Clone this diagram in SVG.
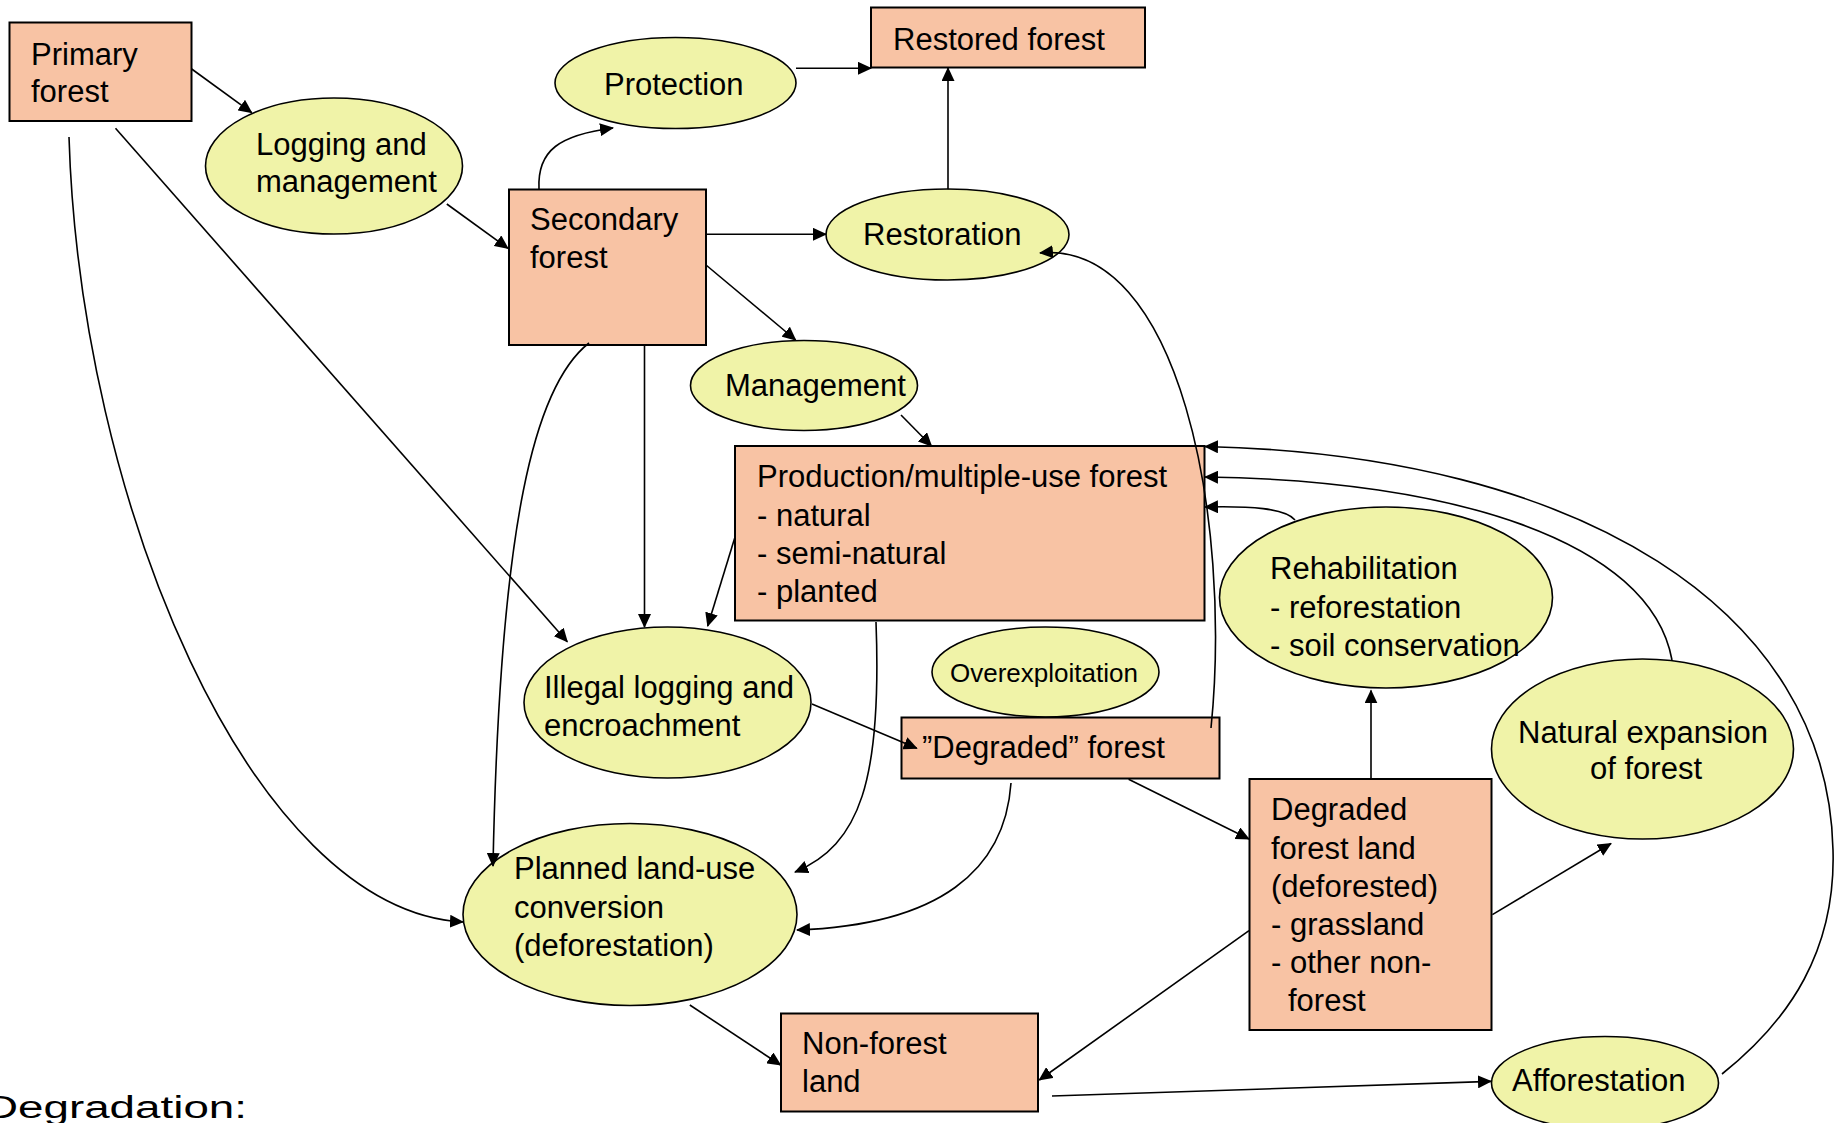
<svg xmlns="http://www.w3.org/2000/svg" width="1835" height="1123" viewBox="0 0 1835 1123">
<style>
.box{fill:#F8C3A4;stroke:#000;stroke-width:2}
.ell{fill:#F0F3A8;stroke:#000;stroke-width:1.6}
.t{font-family:"Liberation Sans",Arial,sans-serif;font-size:31px;fill:#000}
.s{font-size:26px}
.c{fill:none;stroke:#000;stroke-width:1.6;marker-end:url(#ah)}
</style>
<defs>
<marker id="ah" viewBox="0 0 14 13" refX="13" refY="6.5" markerWidth="14" markerHeight="13" markerUnits="userSpaceOnUse" orient="auto">
<path d="M0,0 L14,6.5 L0,13 z" fill="#000"/>
</marker>
</defs>
<rect width="1835" height="1123" fill="#fff"/>

<g id="primary-forest">
<rect class="box" x="9.5" y="22.5" width="182" height="98.5"/>
<text class="t" x="31" y="65">Primary</text>
<text class="t" x="31" y="102">forest</text>
</g>
<g id="logging-management">
<ellipse class="ell" cx="334" cy="166" rx="128.5" ry="68"/>
<text class="t" x="256" y="155">Logging and</text>
<text class="t" x="256" y="192">management</text>
</g>
<g id="protection">
<ellipse class="ell" cx="675.5" cy="83" rx="120.5" ry="45.5"/>
<text class="t" x="604" y="95">Protection</text>
</g>
<g id="restored-forest">
<rect class="box" x="871" y="7.5" width="274" height="60"/>
<text class="t" x="893" y="50">Restored forest</text>
</g>
<g id="secondary-forest">
<rect class="box" x="509" y="189.5" width="197" height="155.5"/>
<text class="t" x="530" y="230">Secondary</text>
<text class="t" x="530" y="268">forest</text>
</g>
<g id="restoration">
<ellipse class="ell" cx="947.5" cy="234.5" rx="121.5" ry="45.5"/>
<text class="t" x="863" y="245">Restoration</text>
</g>
<g id="management">
<ellipse class="ell" cx="804" cy="385.5" rx="113.5" ry="45"/>
<text class="t" x="725" y="396">Management</text>
</g>
<g id="production-forest">
<rect class="box" x="735" y="446" width="469.5" height="174.5"/>
<text class="t" x="757" y="487">Production/multiple-use forest</text>
<text class="t" x="757" y="526">- natural</text>
<text class="t" x="757" y="564">- semi-natural</text>
<text class="t" x="757" y="602">- planted</text>
</g>
<g id="illegal-logging">
<ellipse class="ell" cx="667.5" cy="702.5" rx="143.5" ry="75.5"/>
<text class="t" x="544" y="698">Illegal logging and</text>
<text class="t" x="544" y="736">encroachment</text>
</g>
<g id="overexploitation">
<ellipse class="ell" cx="1045.5" cy="672" rx="113.5" ry="45"/>
<text class="t s" x="950" y="682">Overexploitation</text>
</g>
<g id="degraded-forest">
<rect class="box" x="901.5" y="717.5" width="318" height="61"/>
<text class="t" x="922" y="758">”Degraded” forest</text>
</g>
<g id="rehabilitation">
<ellipse class="ell" cx="1386" cy="597.5" rx="166.5" ry="90.5"/>
<text class="t" x="1270" y="579">Rehabilitation</text>
<text class="t" x="1270" y="617.5">- reforestation</text>
<text class="t" x="1270" y="655.5">- soil conservation</text>
</g>
<g id="natural-expansion">
<ellipse class="ell" cx="1642.5" cy="749" rx="151" ry="90"/>
<text class="t" x="1643" y="742.5" text-anchor="middle">Natural expansion</text>
<text class="t" x="1646" y="779" text-anchor="middle">of forest</text>
</g>
<g id="degraded-forest-land">
<rect class="box" x="1249.5" y="779" width="242" height="251"/>
<text class="t" x="1271" y="820">Degraded</text>
<text class="t" x="1271" y="858.5">forest land</text>
<text class="t" x="1271" y="896.5">(deforested)</text>
<text class="t" x="1271" y="935">- grassland</text>
<text class="t" x="1271" y="973">- other non-</text>
<text class="t" x="1288" y="1011">forest</text>
</g>
<g id="planned-conversion">
<ellipse class="ell" cx="630" cy="914.5" rx="167" ry="91"/>
<text class="t" x="514" y="879">Planned land-use</text>
<text class="t" x="514" y="918">conversion</text>
<text class="t" x="514" y="956">(deforestation)</text>
</g>
<g id="non-forest-land">
<rect class="box" x="781" y="1013.5" width="257" height="98"/>
<text class="t" x="802" y="1054">Non-forest</text>
<text class="t" x="802" y="1092">land</text>
</g>
<g id="afforestation">
<ellipse class="ell" cx="1605" cy="1083" rx="113.5" ry="46.5"/>
<text class="t" x="1512" y="1091">Afforestation</text>
</g>
<text class="t" x="-15" y="1118" font-size="40" textLength="262" lengthAdjust="spacingAndGlyphs">Degradation:</text>

<g id="connectors">
<path class="c" d="M191.7,69 L251.7,112.7"/>
<path class="c" d="M446.8,204 L508,248.3"/>
<path class="c" d="M539,189 C537,150 560,135 613,128"/>
<path class="c" d="M796,68.3 L871,68.3"/>
<path class="c" d="M948,189.3 L948,68"/>
<path class="c" d="M706,234.3 L826,234.3"/>
<path class="c" d="M706,265 L795.7,340"/>
<path class="c" d="M901,415 L931.5,446"/>
<path class="c" d="M1211,728 C1232,520 1180,240 1040,253"/>
<path class="c" d="M69,137 C80,500 250,910 463,922"/>
<path class="c" d="M115.5,128.3 L567.3,641.7"/>
<path class="c" d="M589,343 C535,385 500,520 493,866"/>
<path class="c" d="M644.5,345 L644.5,627"/>
<path class="c" d="M735,537 L707.7,626"/>
<path class="c" d="M876,622 C882,780 860,845 795,872"/>
<path class="c" d="M812,704 L916.8,748.3"/>
<path class="c" d="M1011,783 C1005,870 940,925 797,930"/>
<path class="c" d="M1128.6,779.3 L1249,839"/>
<path class="c" d="M1371,779 L1371,690.4"/>
<path class="c" d="M1492.4,914.6 L1611,843.5"/>
<path class="c" d="M1249,930.7 L1039.3,1080"/>
<path class="c" d="M689.8,1005 L780.6,1065"/>
<path class="c" d="M1052,1096 L1491,1081.4"/>
<path class="c" d="M1722,1074 C1790,1020 1836,950 1833,850 C1828,610 1580,455 1205,446.5"/>
<path class="c" d="M1672,660 C1650,540 1450,480 1205,477"/>
<path class="c" d="M1295,520 C1285,508 1250,506 1205,507"/>
</g>
</svg>
